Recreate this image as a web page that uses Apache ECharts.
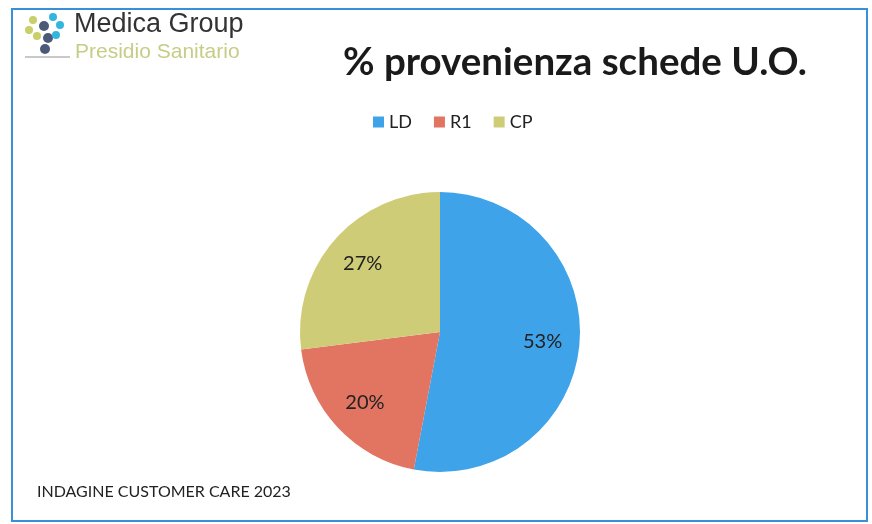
<!DOCTYPE html>
<html>
<head>
<meta charset="utf-8">
<script src="https://cdn.jsdelivr.net/npm/echarts@6/dist/echarts.min.js"></script>
<style>html,body{margin:0;padding:0;background:#fff;}#c{width:872px;height:524px;}</style>
</head>
<body>
<div id="c"></div>
<script>
const categories = ['LD', 'R1', 'CP'];
const values = [53, 20, 27];
const colors = ['#3fa3ea', '#e27462', '#cfcc78'];
const titleText = '% provenienza schede U.O.';
const footerText = 'INDAGINE CUSTOMER CARE 2023';

const chart = echarts.init(document.getElementById('c'));
const pieData = categories.map((c, i) => ({ name: c, value: values[i], itemStyle: { color: colors[i] } }));
const labelData = categories.map((c, i) => ({ name: c, value: values[i] }));

chart.setOption({
  backgroundColor: '#ffffff',
  animation: false,
  title: {
    text: titleText,
    left: 570, top: 38, textAlign: 'center',
    textStyle: { fontFamily: 'Lato', fontWeight: 'bold', fontSize: 38.5, color: '#1a1a1a' }
  },
  legend: {
    data: categories,
    left: 368, top: 108,
    itemWidth: 11, itemHeight: 11, itemGap: 22,
    icon: 'rect',
    textStyle: { fontFamily: 'Lato', fontSize: 18, color: '#222' }
  },
  graphic: [
    { type: 'rect', shape: { x: 12, y: 9, width: 855, height: 512 }, style: { fill: 'none', stroke: '#3b8fd8', lineWidth: 2 } },
    { type: 'circle', shape: { cx: 33, cy: 20, r: 4 }, style: { fill: '#c9cf6a' } },
    { type: 'circle', shape: { cx: 29, cy: 30, r: 4 }, style: { fill: '#c9cf6a' } },
    { type: 'circle', shape: { cx: 37, cy: 36, r: 4 }, style: { fill: '#c9cf6a' } },
    { type: 'circle', shape: { cx: 44, cy: 26, r: 5 }, style: { fill: '#4b5a78' } },
    { type: 'circle', shape: { cx: 48, cy: 38, r: 5 }, style: { fill: '#4b5a78' } },
    { type: 'circle', shape: { cx: 45, cy: 49, r: 5 }, style: { fill: '#4b5a78' } },
    { type: 'circle', shape: { cx: 53, cy: 17, r: 4 }, style: { fill: '#33b5e0' } },
    { type: 'circle', shape: { cx: 60, cy: 25, r: 4 }, style: { fill: '#33b5e0' } },
    { type: 'circle', shape: { cx: 56, cy: 35, r: 4 }, style: { fill: '#33b5e0' } },
    { type: 'rect', shape: { x: 25, y: 56, width: 45, height: 2 }, style: { fill: '#c8c8c8' } },
    { type: 'text', left: 74, top: 11, style: { text: 'Medica Group', fontFamily: 'Liberation Sans', fontSize: 27, fill: '#333333' } },
    { type: 'text', left: 75, top: 42, style: { text: 'Presidio Sanitario', fontFamily: 'Liberation Sans', fontSize: 21, fill: '#c6cd86' } },
    { type: 'text', left: 37, top: 484, style: { text: footerText, fontFamily: 'Lato', fontSize: 16, fill: '#222222' } }
  ],
  series: [
    {
      type: 'pie',
      center: [440, 332],
      radius: [0, 140],
      startAngle: 90,
      clockwise: true,
      data: pieData,
      label: { show: false },
      labelLine: { show: false },
      itemStyle: { borderWidth: 0 },
      silent: true
    },
    {
      type: 'pie',
      center: [440, 332],
      radius: [60, 140],
      startAngle: 90,
      clockwise: true,
      data: labelData,
      itemStyle: { color: 'rgba(0,0,0,0)', borderWidth: 0 },
      label: {
        show: true, position: 'inside',
        formatter: p => p.value + '%',
        fontFamily: 'Lato', fontSize: 20, color: '#222'
      },
      labelLine: { show: false },
      silent: true
    }
  ]
});
</script>
</body>
</html>
